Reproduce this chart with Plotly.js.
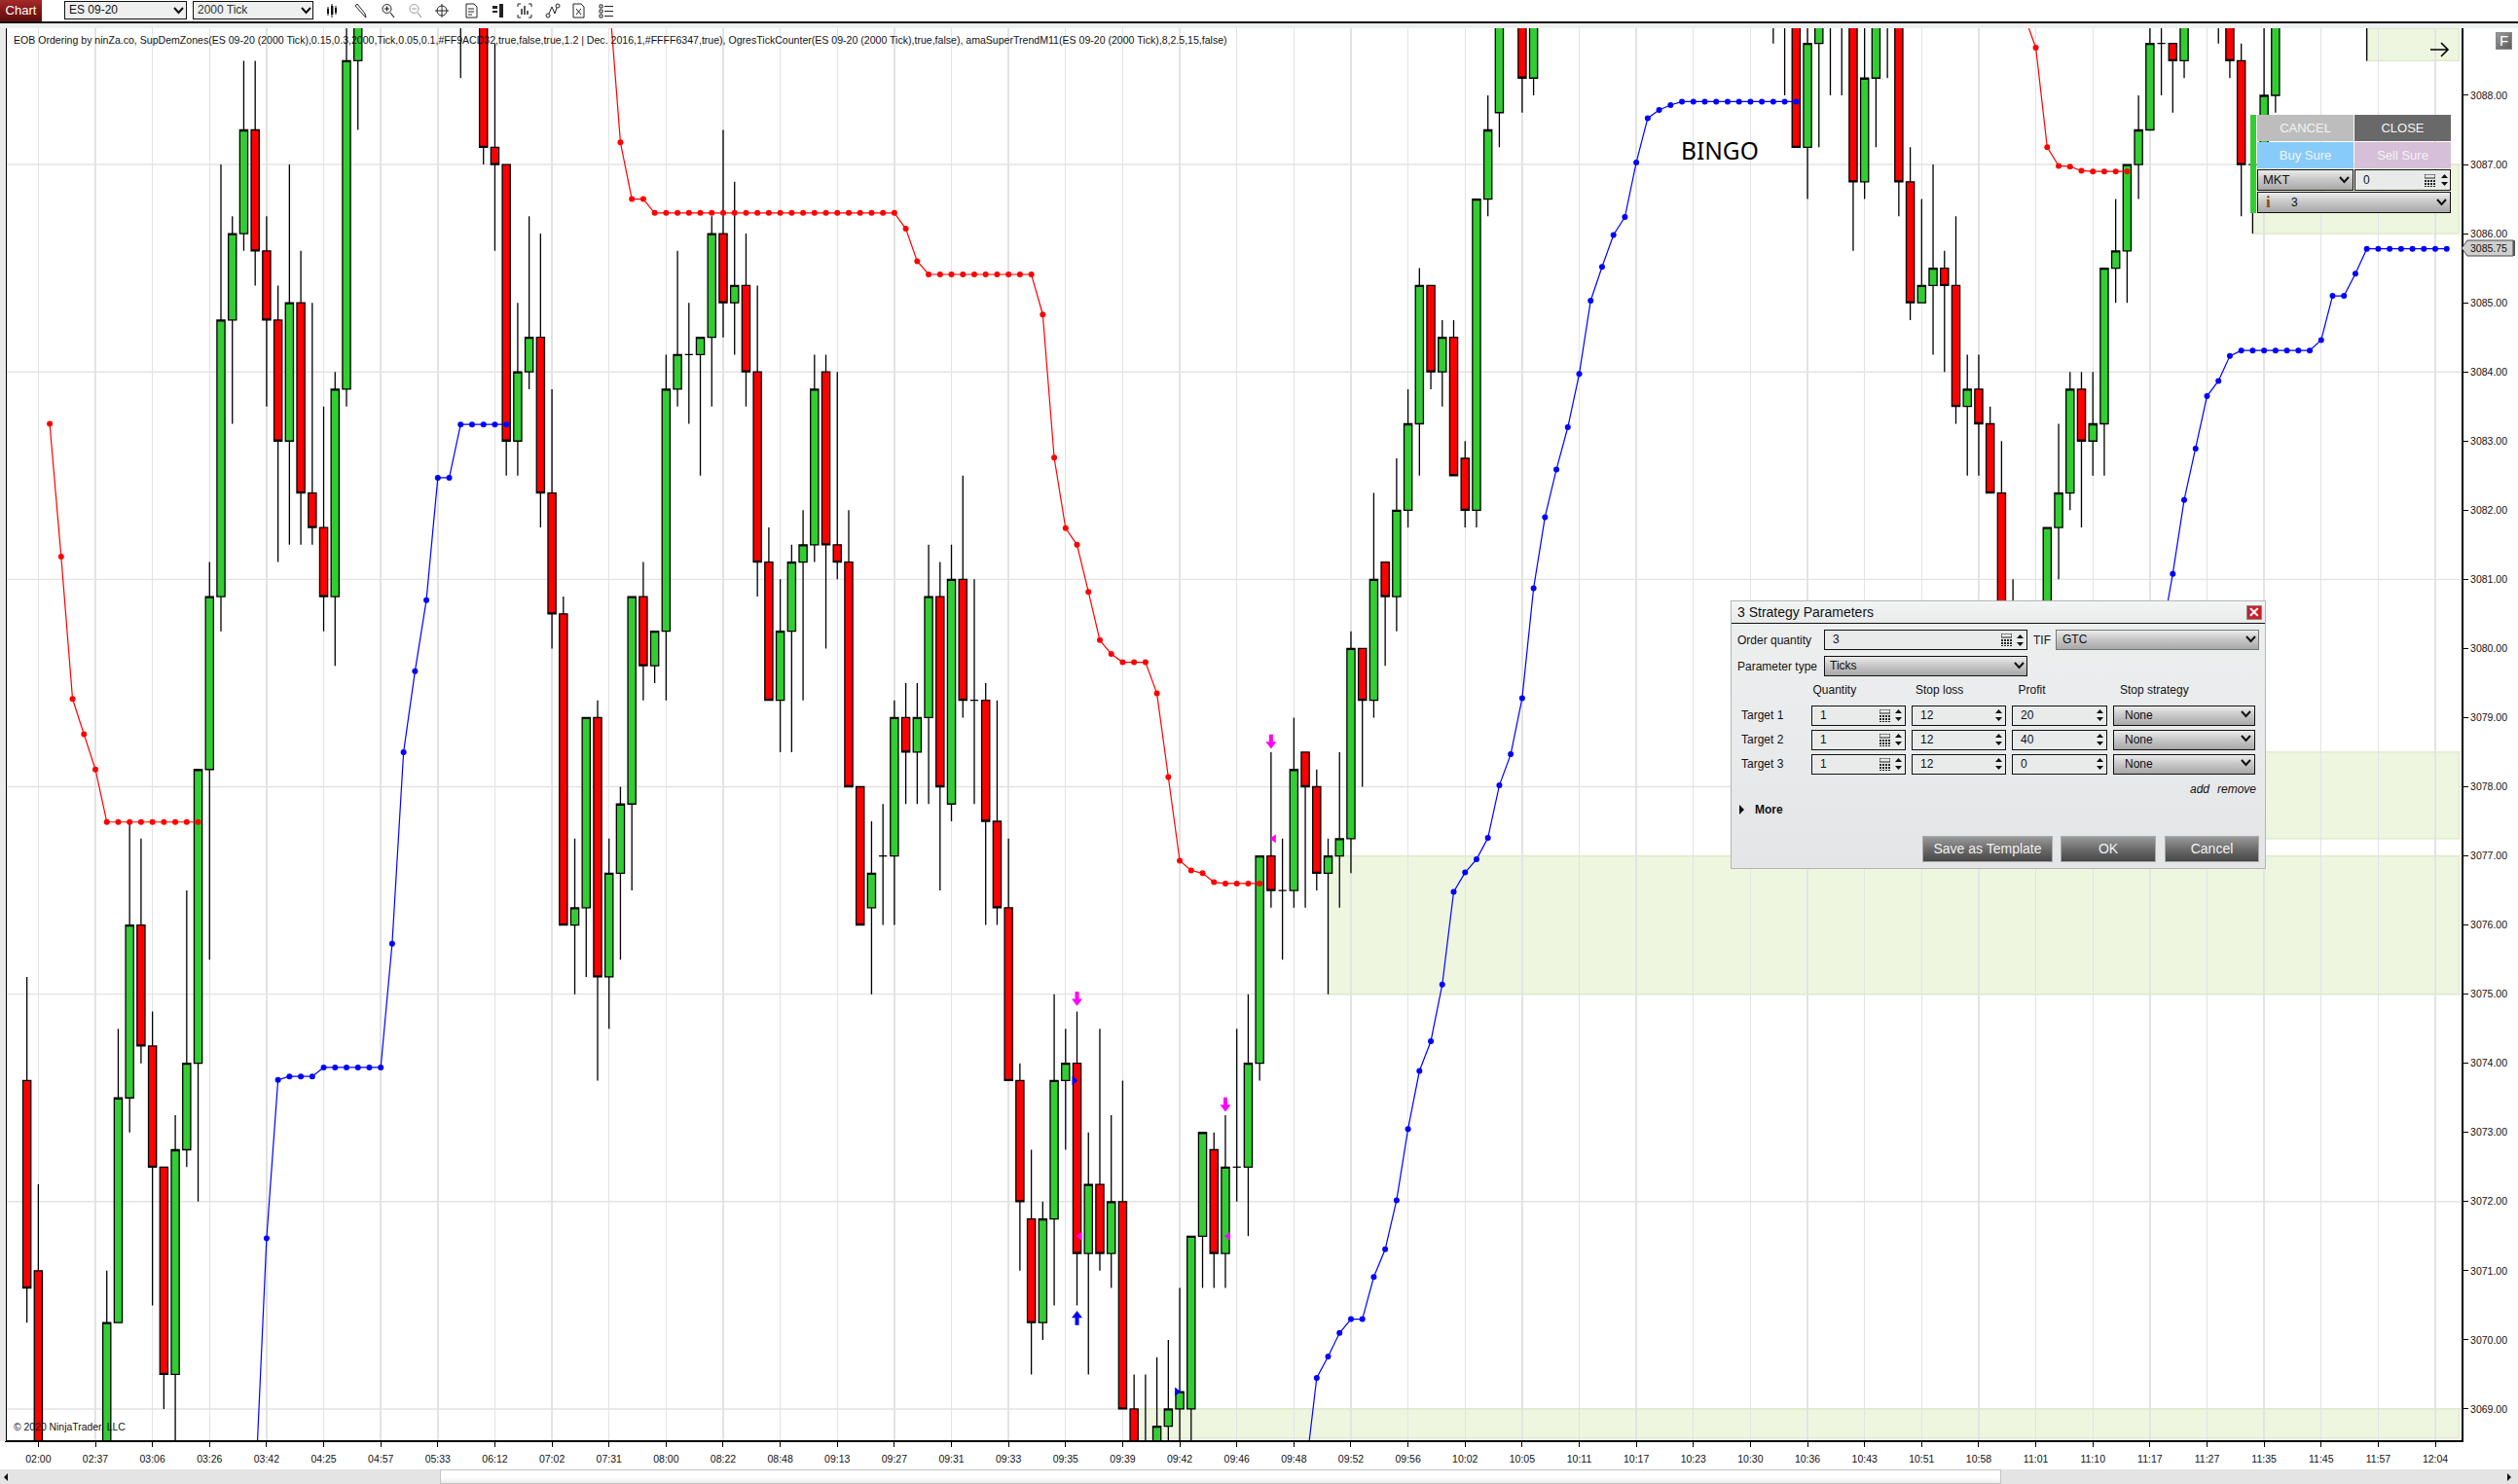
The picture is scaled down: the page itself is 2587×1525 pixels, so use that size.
<!DOCTYPE html>
<html><head><meta charset="utf-8">
<script src="https://cdn.plot.ly/plotly-3.0.1.min.js"></script>
<style>
html,body{margin:0;padding:0;background:#fff;overflow:hidden;width:2587px;height:1525px}
#chart{position:absolute;left:0;top:0;width:2587px;height:1525px}
#ui{position:absolute;left:0;top:0;width:2587px;height:1525px;pointer-events:none;font-family:"Liberation Sans",Arial,sans-serif;color:#111}
#ui div,#ui svg{position:absolute;box-sizing:border-box}
</style></head><body>
<div id="chart"></div><div id="ui"></div>
<script>
// ---- data ----
const tickLabels = ["02:00","02:37","03:06","03:26","03:42","04:25","04:57","05:33","06:12","07:02","07:31","08:00","08:22","08:48","09:13","09:27","09:31","09:33","09:35","09:39","09:42","09:46","09:48","09:52","09:56","10:02","10:05","10:11","10:17","10:23","10:30","10:36","10:43","10:51","10:58","11:01","11:10","11:17","11:27","11:35","11:45","11:57","12:04"];
const barsPerTick = 5;
const gridPrices = [3069,3072,3075,3078,3081,3084,3087];

const barIndex = [-1,0,6,7,8,9,10,11,12,13,14,15,16,17,18,19,20,21,22,23,24,25,26,27,28,37,39,40,41,42,43,44,45,46,47,48,49,50,51,52,53,54,55,56,57,58,59,60,61,62,63,64,65,66,67,68,69,70,71,72,73,74,75,76,77,78,79,80,81,82,83,84,85,86,87,88,89,90,91,92,93,94,95,96,97,98,99,100,101,102,103,104,105,106,107,108,109,110,111,112,113,114,115,116,117,118,119,120,121,122,123,124,125,126,127,128,130,131,152,153,154,155,156,157,158,159,160,161,162,163,164,165,166,167,168,169,170,171,172,173,176,177,178,179,180,181,182,183,184,185,186,187,188,191,192,193,194,195,196,204];
const opens = [3073.75,3071,3068,3070.25,3073.5,3076,3074.25,3072.5,3069.5,3072.75,3074,3078.25,3080.75,3084.75,3086,3087.5,3085.75,3084.75,3083,3085,3082.25,3081.75,3080.75,3083.75,3088.5,3090.25,3090,3087.25,3087,3083,3084,3084.5,3082.25,3080.5,3076,3076.25,3079,3075.25,3076.75,3077.75,3080.75,3079.75,3080.25,3083.75,3084.25,3084.25,3084.5,3086,3085,3085.25,3084,3081.25,3079.25,3080.25,3081.25,3081.5,3084,3081.5,3081.25,3078,3076.25,3077,3077,3079,3078.5,3079,3080.75,3077.75,3081,3079.25,3079.25,3077.5,3076.25,3073.75,3071.75,3070.25,3071.75,3073.75,3074,3071.25,3072.25,3071.25,3072,3069,3068.25,3068,3068.75,3069,3069,3071.5,3072.75,3071.25,3072.5,3072.5,3074,3077,3076.5,3076.5,3078.5,3078,3076.75,3077,3077.25,3080,3079.25,3081.25,3080.75,3082,3083.25,3085.25,3084,3084.5,3082.75,3082,3086.5,3087.75,3090,3088.25,3090.25,3090.25,3090,3087.25,3088.75,3090.25,3090.25,3090,3086.75,3088.25,3090.25,3090,3086.75,3085,3085.25,3085.5,3085.25,3083.5,3083.75,3083.25,3082.25,3080.25,3080,3081.75,3082.25,3083.75,3083,3083.25,3085.5,3085.75,3087,3087.5,3088.75,3088.75,3088.5,3090.25,3090,3088.5,3087,3087,3088,3090.25];
const highs = [3075.25,3072.25,3071,3074.5,3077.5,3077.25,3074.75,3072.5,3073.25,3076.5,3078.25,3081.25,3087,3086.25,3088.5,3088.5,3086.25,3085.25,3087,3085.75,3085,3083.5,3084,3089.25,3090,3090.5,3090.5,3088.75,3087,3085,3086.25,3086,3083.75,3080.75,3077.25,3079,3079.25,3077.25,3078,3080.75,3081.25,3080.25,3084.25,3085.75,3085,3084.5,3086.25,3087.5,3086.75,3086,3085.25,3081.75,3081,3081.5,3082,3084.25,3084.25,3084,3082,3078,3077.5,3077.75,3079.25,3079.5,3079.5,3081.5,3081.25,3081.5,3082.5,3081,3079.5,3079.25,3077.25,3074,3072.75,3072,3075,3074.5,3074.75,3073,3074.5,3073.25,3073.75,3069.5,3069.5,3069.75,3070,3070.75,3071.5,3073,3073,3073.25,3074.5,3075,3077,3078.5,3077.25,3079,3078.5,3078.25,3077.25,3078.5,3080.25,3080,3082.25,3081.25,3082.75,3083.75,3085.5,3085.25,3084.75,3084.75,3083,3086.5,3088,3090,3090.5,3090.5,3090.5,3090.5,3090.5,3090,3090,3090.5,3090.5,3090.5,3089.5,3090,3090.5,3090.5,3087.25,3086.5,3087,3085.75,3086.25,3084.25,3084.25,3083.5,3083,3081,3081.75,3083.25,3084,3084,3084,3085.5,3086.5,3087,3088,3089.5,3089.5,3088.75,3090,3090.5,3090.5,3088.75,3087.5,3089.5,3090,3090.5];
const lows = [3070.25,3067.5,3067.5,3070.25,3073,3074,3070.5,3069,3068,3072.5,3072,3075.5,3080.25,3083.25,3085.75,3085.25,3083.5,3081.25,3081.5,3081.5,3081.5,3080.25,3079.75,3083.5,3087.5,3088.25,3087,3085.75,3082.5,3082.5,3083.75,3081.75,3080,3076,3075,3075.25,3073.75,3074.5,3075.5,3076.5,3079.25,3079.5,3079.25,3083.5,3083.25,3082.5,3083.5,3084.5,3084.25,3083.5,3080.75,3079.25,3078.5,3078.5,3079.25,3081.25,3080,3081,3078,3076,3075,3076,3076,3077.75,3077.75,3077.75,3076.5,3077.5,3079,3077.75,3076,3076,3073.75,3071,3069.5,3070,3070.5,3072.75,3070.5,3069.5,3071,3070.75,3069,3067.5,3067.5,3067.5,3068,3068,3068,3070.75,3070.75,3070.75,3072,3071.5,3073.75,3076.25,3075.5,3076.25,3076.25,3076.5,3075,3076.25,3076.75,3078,3079,3079.75,3080.25,3081.75,3082.5,3083.75,3083.5,3082.5,3081.75,3081.75,3086.25,3087.25,3087.75,3088,3088.75,3088,3087.25,3086.5,3087.25,3088,3088,3085.75,3086.5,3087.25,3088.25,3086.25,3084.75,3085,3084.25,3084,3083.25,3082.5,3082.5,3082.25,3080,3080,3079.75,3081,3082,3081.75,3082.5,3082.5,3085,3085,3086.5,3087.5,3088,3087.75,3088.25,3088.75,3088.25,3086.25,3086,3087,3087.75,3088.5];
const closes = [3070.75,3068,3070.25,3073.5,3076,3074.25,3072.5,3069.5,3072.75,3074,3078.25,3080.75,3084.75,3086,3087.5,3085.75,3084.75,3083,3085,3082.25,3081.75,3080.75,3083.75,3088.5,3089.5,3090,3087.25,3087,3083,3084,3084.5,3082.25,3080.5,3076,3076.25,3079,3075.25,3076.75,3077.75,3080.75,3079.75,3080.25,3083.75,3084.25,3084.25,3084.5,3086,3085,3085.25,3084,3081.25,3079.25,3080.25,3081.25,3081.5,3083.75,3081.5,3081.25,3078,3076,3076.75,3077,3079,3078.5,3079,3080.75,3078,3081,3079.25,3079.25,3077.5,3076.25,3073.75,3072,3070.25,3071.75,3073.75,3074,3071.25,3072.25,3071.25,3072,3069,3068,3068,3068.75,3069,3069.25,3071.5,3073,3071.25,3072.5,3072.5,3074,3077,3076.5,3076.5,3078.25,3078,3076.75,3077,3077.25,3080,3079.25,3081,3080.75,3082,3083.25,3085.25,3084,3084.5,3082.5,3082,3086.5,3087.5,3089.5,3088.25,3090,3090,3090,3087.25,3088.75,3090,3090,3090,3086.75,3088.25,3090,3090,3086.75,3085,3085.25,3085.5,3085.25,3083.5,3083.75,3083.25,3082.25,3080.5,3080,3081.75,3082.25,3083.75,3083,3083.25,3085.5,3085.75,3087,3087.5,3088.75,3088.75,3088.5,3090,3090,3088.5,3087,3087,3088,3090,3090];

const redX = [1,2,3,4,5,6,7,8,9,10,11,12,13,14,null,50,51,52,53,54,55,56,57,58,59,60,61,62,63,64,65,66,67,68,69,70,71,72,73,74,75,76,77,78,79,80,81,82,83,84,85,86,87,88,89,90,91,92,93,94,95,96,97,98,99,100,101,102,103,104,105,106,107,null,174,175,176,177,178,179,180,181,182,183];
const redY = [3083.25,3081.33,3079.27,3078.76,3078.25,3077.49,3077.49,3077.49,3077.49,3077.49,3077.49,3077.49,3077.49,3077.49,null,3089.45,3087.32,3086.5,3086.5,3086.3,3086.3,3086.3,3086.3,3086.3,3086.3,3086.3,3086.3,3086.3,3086.3,3086.3,3086.3,3086.3,3086.3,3086.3,3086.3,3086.3,3086.3,3086.3,3086.3,3086.3,3086.3,3086.07,3085.6,3085.41,3085.41,3085.41,3085.41,3085.41,3085.41,3085.41,3085.41,3085.41,3085.41,3084.83,3082.76,3081.74,3081.5,3080.82,3080.12,3079.92,3079.8,3079.8,3079.8,3079.35,3078.14,3076.93,3076.79,3076.75,3076.62,3076.6,3076.6,3076.6,3076.6,null,3089.15,3088.69,3087.25,3086.98,3086.97,3086.91,3086.9,3086.9,3086.9,3086.9];

const blueX = [19,20,21,22,23,24,25,26,27,28,29,30,31,32,33,34,35,36,37,38,39,40,41,null,111,112,113,114,115,116,117,118,119,120,121,122,123,124,125,126,127,128,129,130,131,132,133,134,135,136,137,138,139,140,141,142,143,144,145,146,147,148,149,150,151,152,153,154,null,186,187,188,189,190,191,192,193,194,195,196,197,198,199,200,201,202,203,204,205,206,207,208,209,210,211];
const blueY = [3067.8,3071.47,3073.76,3073.81,3073.81,3073.81,3073.94,3073.94,3073.94,3073.94,3073.94,3073.94,3075.73,3078.5,3079.67,3080.7,3082.47,3082.47,3083.24,3083.24,3083.24,3083.24,3083.24,null,3068.05,3069.45,3069.76,3070.1,3070.3,3070.3,3070.91,3071.31,3072.02,3073.05,3073.89,3074.32,3075.14,3076.48,3076.76,3076.95,3077.26,3078.02,3078.47,3079.28,3080.87,3081.9,3082.59,3083.2,3083.97,3085.03,3085.52,3085.98,3086.24,3087.03,3087.67,3087.79,3087.86,3087.91,3087.91,3087.91,3087.91,3087.91,3087.91,3087.91,3087.91,3087.91,3087.91,3087.91,null,3080.15,3081.08,3082.15,3082.89,3083.65,3083.87,3084.23,3084.31,3084.31,3084.31,3084.31,3084.31,3084.31,3084.31,3084.46,3085.1,3085.1,3085.42,3085.78,3085.78,3085.78,3085.78,3085.78,3085.78,3085.78,3085.78];

// supply / demand zones: first bar, last bar, top price, bottom price
const zoneStart = [113,96,204,194,170];
const zoneEnd   = [212.07,212.07,212.07,212.07,212.07];
const zoneTop   = [3077,3069,3088.97,3087,3078.5];
const zoneBot   = [3075,3068.58,3088.5,3086,3077.25];

const sellArrowBar = [91,104,108];
const sellArrowPrice = [3074.83,3073.3,3078.55];
const buyArrowBar = [91];
const buyArrowPrice = [3070.42];
const magTriBar = [91.25,104.25,108.25];
const magTriPrice = [3071.5,3071.5,3077.25];
const blueTriBar = [90.75,99.75];
const blueTriPrice = [3073.75,3069.25];

const infoLine = "EOB Ordering by ninZa.co, SupDemZones(ES 09-20 (2000 Tick),0.15,0.3,2000,Tick,0.05,0.1,#FF9ACD32,true,false,true,1.2 | Dec. 2016,1,#FFFF6347,true), OgresTickCounter(ES 09-20 (2000 Tick),true,false), amaSuperTrendM11(ES 09-20 (2000 Tick),8,2.5,15,false)";
const copyrightLine = "© 2020 NinjaTrader, LLC";

// ---- chart ----
const font = '"Liberation Sans", Arial, sans-serif';
const tickVals = tickLabels.map((_, k) => k * barsPerTick);
const arrowHeadOffset = 0.067, arrowTail = 0.207;
const traces = [
 {type:'candlestick',x:barIndex,open:opens,high:highs,low:lows,close:closes,
  increasing:{line:{color:'#000',width:1.3},fillcolor:'#32CD32'},
  decreasing:{line:{color:'#000',width:1.3},fillcolor:'#FF0000'},
  whiskerwidth:0,showlegend:false,hoverinfo:'skip'},
 {type:'scatter',mode:'lines+markers',x:redX,y:redY,line:{color:'#FF0000',width:1.2},marker:{color:'#FF0000',size:6},showlegend:false,hoverinfo:'skip'},
 {type:'scatter',mode:'lines+markers',x:blueX,y:blueY,line:{color:'#0000FF',width:1.2},marker:{color:'#0000FF',size:6},showlegend:false,hoverinfo:'skip'},
 {type:'scatter',mode:'markers',x:magTriBar,y:magTriPrice,marker:{symbol:'triangle-left',color:'#FF00FF',size:8},showlegend:false,hoverinfo:'skip'},
 {type:'scatter',mode:'markers',x:blueTriBar,y:blueTriPrice,marker:{symbol:'triangle-right',color:'#0000FF',size:8},showlegend:false,hoverinfo:'skip'},
 {type:'scatter',mode:'markers',x:sellArrowBar,y:sellArrowPrice.map(p=>p+arrowHeadOffset),marker:{symbol:'triangle-down',color:'#FF00FF',size:9.5},showlegend:false,hoverinfo:'skip'},
 {type:'scatter',mode:'markers',x:buyArrowBar,y:buyArrowPrice.map(p=>p-arrowHeadOffset),marker:{symbol:'triangle-up',color:'#0000FF',size:9.5},showlegend:false,hoverinfo:'skip'}
];
const shapes = [];
zoneStart.forEach((s,k)=>shapes.push({type:'rect',layer:'below',xref:'x',yref:'y',x0:s,x1:zoneEnd[k],y0:zoneBot[k],y1:zoneTop[k],fillcolor:'#EEF6E0',line:{color:'#DCE8C6',width:1.2}}));
gridPrices.forEach(p=>shapes.push({type:'line',layer:'between',xref:'paper',yref:'y',x0:0,x1:1,y0:p,y1:p,line:{color:'#E3E3E3',width:1.4}}));
sellArrowBar.forEach((b,k)=>shapes.push({type:'line',layer:'above',xref:'x',yref:'y',x0:b,x1:b,y0:sellArrowPrice[k]+arrowHeadOffset,y1:sellArrowPrice[k]+arrowTail,line:{color:'#FF00FF',width:4}}));
buyArrowBar.forEach((b,k)=>shapes.push({type:'line',layer:'above',xref:'x',yref:'y',x0:b,x1:b,y0:buyArrowPrice[k]-arrowHeadOffset,y1:buyArrowPrice[k]-arrowTail,line:{color:'#0000FF',width:4}}));

const annotations = [
 {xref:'paper',yref:'paper',x:0.0018,y:0.9915,xanchor:'left',yanchor:'middle',text:infoLine,showarrow:false,font:{family:font,size:10.57,color:'#111'}},
 {xref:'paper',yref:'paper',x:0.0018,y:0.0090,xanchor:'left',yanchor:'middle',text:copyrightLine,showarrow:false,font:{family:font,size:10.4,color:'#111'}},
 {xref:'x',yref:'y',x:147.3,y:3087.2,xanchor:'center',yanchor:'middle',text:'BINGO',showarrow:false,font:{family:'"Noto Sans", sans-serif',size:24.5,color:'#000'}}
];

const layout = {
 width:2587,height:1525,autosize:false,
 margin:{l:7,r:58,t:29,b:45,pad:0},
 paper_bgcolor:'#fff',plot_bgcolor:'rgba(0,0,0,0)',
 boxgap:0.3,boxgroupgap:0,boxmode:'overlay',
 font:{family:font,size:10.5,color:'#111'},
 xaxis:{type:'linear',range:[-2.76,212.3],tickmode:'array',tickvals:tickVals,ticktext:tickLabels,
   showgrid:true,gridcolor:'#E3E3E3',gridwidth:1.4,zeroline:false,showline:true,linecolor:'#000',linewidth:2,mirror:true,
   ticks:'outside',ticklen:5,tickcolor:'#000',tickwidth:1,ticklabelstandoff:3,rangeslider:{visible:false},tickangle:0,
   tickfont:{family:font,size:10.5,color:'#111'}},
 yaxis:{type:'linear',range:[3068.549,3088.971],side:'right',tick0:3069,dtick:1,tickformat:'.2f',
   showgrid:false,zeroline:false,showline:true,linecolor:'#000',linewidth:2,mirror:true,
   ticks:'outside',ticklen:5,tickcolor:'#000',tickwidth:1,tickfont:{family:font,size:10.5,color:'#111'}},
 shapes,annotations,showlegend:false,dragmode:false,hovermode:false
};
Plotly.newPlot('chart',traces,layout,{displayModeBar:false,staticPlot:true});

// ---- trading platform chrome around the chart ----
const ui = document.getElementById('ui');
let h = '';
function box(x,y,w,hh,css,text){h+=`<div style="left:${x}px;top:${y}px;width:${w}px;height:${hh}px;${css||''}">${text||''}</div>`;}
function label(x,cy,text,css){h+=`<div style="left:${x}px;top:${cy-8}px;height:16px;line-height:16px;white-space:nowrap;${css||''}">${text}</div>`;}
function svg(x,y,w,hh,inner){h+=`<svg style="left:${x}px;top:${y}px" width="${w}" height="${hh}" viewBox="0 0 ${w} ${hh}">${inner}</svg>`;}
function chev(x,cy){svg(x,cy-4,11,8,'<polyline points="1,1 5.5,6 10,1" fill="none" stroke="#111" stroke-width="2"/>');}
function spin(x,cy){svg(x,cy-7,9,14,'<path d="M1 5 L4.5 1 L8 5Z M1 9 L4.5 13 L8 9Z" fill="#111"/>');}
function calc(x,cy){svg(x,cy-6.5,11,13,'<rect x="0" y="0" width="11" height="4" fill="none" stroke="#222"/><path d="M0 6h2v2h-2zM3 6h2v2h-2zM6 6h2v2h-2zM9 6h2v2h-2zM0 9h2v2h-2zM3 9h2v2h-2zM6 9h2v2h-2zM9 9h2v2h-2zM0 12h2v1h-2zM3 12h2v1h-2zM6 12h2v1h-2zM9 12h2v1h-2z" fill="#222"/>');}
const selGrad='background:linear-gradient(#ececec,#c9c9c9 45%,#a8a8a8);border:1px solid #111;';
const inpBg='background:#e9ebeb;border:1px solid #111;';

// top bar
box(0,0,2587,22,'background:#fff');
box(0,22,2587,2,'background:#111');
box(0,24,2587,5,'background:#eef0ef');
box(0,0,43,22,'background:linear-gradient(#a52a2a,#7a1414 60%,#5d0f0f);color:#fff;font-size:13px;line-height:22px;text-align:center;','Chart');
box(66,1,126,19,'background:#eef0ef;border:1px solid #111;font-size:12px;line-height:17px;padding-left:4px','ES 09-20');
chev(178,11);
box(198,1,124,19,'background:#eef0ef;border:1px solid #111;font-size:12px;line-height:17px;padding-left:4px;color:#333','2000 Tick');
chev(309,11);
const ic = [
 '<path d="M3 4v9M7 1v14M11 3v9" stroke="#111" stroke-width="1"/><rect x="2" y="6" width="2" height="5" fill="#111"/><rect x="6" y="3" width="2.4" height="9" fill="#111"/><rect x="10" y="5" width="2" height="5" fill="#111"/>',
 '<path d="M2 3L11 13L13 15L12 11L4 1Z" fill="none" stroke="#222"/>',
 '<circle cx="6.5" cy="6" r="4.5" fill="none" stroke="#222"/><path d="M10 10L14 15M4 6h5M6.5 3.5v5" stroke="#222" stroke-width="1.2"/>',
 '<circle cx="6.5" cy="6" r="4.5" fill="none" stroke="#999"/><path d="M10 10L14 15M4 6h5" stroke="#999" stroke-width="1.2"/>',
 '<circle cx="8" cy="8" r="5" fill="none" stroke="#222"/><path d="M8 1v14M1 8h14" stroke="#222"/>',
 '<path d="M2 1h8l3 3v11h-11z" fill="none" stroke="#222"/><path d="M4 6h6M4 9h6M4 12h4" stroke="#222"/>',
 '<rect x="9" y="1" width="4" height="14" fill="#222"/><rect x="2" y="3" width="5" height="3" fill="#222"/><rect x="2" y="8" width="5" height="2" fill="#222"/>',
 '<path d="M1 4v-3h3M12 1h3v3M15 12v3h-3M4 15h-3v-3" fill="none" stroke="#222"/><path d="M5 12v-6M8 12v-9M11 12v-4" stroke="#222" stroke-width="1.5"/>',
 '<circle cx="3" cy="13" r="2" fill="none" stroke="#222"/><circle cx="13" cy="3" r="2" fill="none" stroke="#222"/><path d="M4 11L7 4L10 11L12 5" fill="none" stroke="#222"/>',
 '<path d="M2 1h8l3 3v11h-11z" fill="none" stroke="#222"/><path d="M5 6l5 6M10 6l-5 6" stroke="#222"/>',
 '<path d="M1 2h3v3h-3zM1 7h3v3h-3zM1 12h3v3h-3z" fill="none" stroke="#222"/><path d="M6 3.5h9M6 8.5h9M6 13.5h9" stroke="#222"/>'
];
[342,371,399,427,454,485,512,539,568,595,623].forEach((cx,k)=>svg(cx-8,3,16,16,ic[k]));

// left strip, scrollbar
box(0,29,6,1452,'background:#e9ebeb');
box(0,1510,2587,15,'background:#e4e4e4');
box(452,1510,1604,15,'background:linear-gradient(#fff 55%,#ececec);border:1px solid #c4c4c4;border-width:1px 1px 1px 1px');
svg(3,1513,6,10,'<path d="M5 1L1 5L5 9Z" fill="#111"/>');
svg(2575,1513,6,10,'<path d="M1 1L5 5L1 9Z" fill="#111"/>');

// F button and last-price flag
box(2564,33,17,18,'background:linear-gradient(135deg,#9a9a9a,#5c5c5c);border:1px solid #888;color:#fff;font-size:15px;line-height:16px;text-align:center','F');
svg(2522,246,64,20,'<path d="M7 9L13 1H60V17H13Z" fill="#cfcfcf" stroke="#444" stroke-width="1"/><rect x="60" y="1" width="2" height="16" fill="#555"/>');
label(2538,255,'3085.75','font-size:10.5px;color:#111');

// arrow in the top-right zone
svg(2495,41,22,20,'<path d="M2 10H20M13 3L20 10L13 17" fill="none" stroke="#000" stroke-width="1.6"/>');

// order panel
box(2312,118,6,101,'background:#32CD32');
const btn='color:#f4f4f4;font-size:13px;text-align:center;line-height:27px;';
box(2319,118,99,27,'background:#BDBDBD;'+btn,'CANCEL');
box(2419,118,99,27,'background:#696969;'+btn,'CLOSE');
box(2319,146,99,27,'background:#87CCF9;'+btn,'Buy Sure');
box(2419,146,99,27,'background:#D6BFD8;'+btn,'Sell Sure');
box(2319,174,99,22,selGrad+'font-size:13px;line-height:20px;padding-left:5px','MKT');
chev(2403,185);
box(2419,174,99,22,inpBg+'font-size:12px;line-height:20px;padding-left:8px','0');
calc(2491,185); spin(2507,185);
box(2319,197,199,22,selGrad);
label(2328,208,'i','font-family:\'Liberation Serif\',serif;font-weight:bold;font-size:17px;color:#8a4b08');
label(2354,208,'3','font-size:12px');
chev(2503,208);

// strategy dialog
box(1778,617,550,276,'background:linear-gradient(#eef0f0,#e4e5e7);border:1px solid #b5b5b5');
box(1779,618,548,22,'background:linear-gradient(#f4f5f5,#e9ebeb)');
box(1779,640,548,1,'background:#111');
label(1785,629,'3 Strategy Parameters','font-size:14px');
box(2308,622,16,15,'background:#c8202a;border:1px solid #8a8a8a;color:#fff;font-size:14px;font-weight:bold;line-height:13px;text-align:center','✕');
const lb='font-size:12px;';
label(1785,658,'Order quantity',lb);
box(1874,647,209,21,inpBg+lb+'line-height:19px;padding-left:8px','3');
calc(2056,657.5); spin(2071,657.5);
label(2089,658,'TIF',lb);
box(2112,647,209,21,selGrad+lb+'line-height:19px;padding-left:6px;border-color:#777','GTC');
chev(2307,657);
label(1785,685,'Parameter type',lb);
box(1874,674,209,21,selGrad+lb+'line-height:19px;padding-left:5px','Ticks');
chev(2069,684);
label(1862.5,709,'Quantity',lb);
label(1968,709,'Stop loss',lb);
label(2073.5,709,'Profit',lb);
label(2178,709,'Stop strategy',lb);
const targetNames=['Target 1','Target 2','Target 3'];
const targetQty=['1','1','1'];
const targetStop=['12','12','12'];
const targetProfit=['20','40','0'];
const targetStrategy=['None','None','None'];
[735,760,785].forEach((cy,k)=>{
  label(1789,cy,targetNames[k],lb);
  box(1861,cy-10.5,97,21,inpBg+lb+'line-height:19px;padding-left:8px',targetQty[k]);
  calc(1931,cy); spin(1946,cy);
  box(1964,cy-10.5,97,21,inpBg+lb+'line-height:19px;padding-left:8px',targetStop[k]);
  spin(2049,cy);
  box(2067,cy-10.5,98,21,inpBg+lb+'line-height:19px;padding-left:8px',targetProfit[k]);
  spin(2153,cy);
  box(2171,cy-10.5,146,21,selGrad+lb+'line-height:19px;padding-left:11px',targetStrategy[k]);
  chev(2302,cy-1);
});
label(2250,811,'add','font-size:12px;font-style:italic');
label(2278,811,'remove','font-size:12px;font-style:italic');
svg(1786,826,7,12,'<path d="M1 1L6 6L1 11Z" fill="#111"/>');
label(1803,832,'More','font-size:12px;font-weight:bold');
const gb='background:linear-gradient(#9a9a9a,#6c6c6c 50%,#474747);border:1px solid #aaa;color:#f2f2f2;font-size:14px;line-height:24px;text-align:center;';
box(1975,859,134,27,gb,'Save as Template');
box(2117,859,98,27,gb,'OK');
box(2224,859,97,27,gb,'Cancel');
ui.innerHTML = h;
</script>
</body></html>
